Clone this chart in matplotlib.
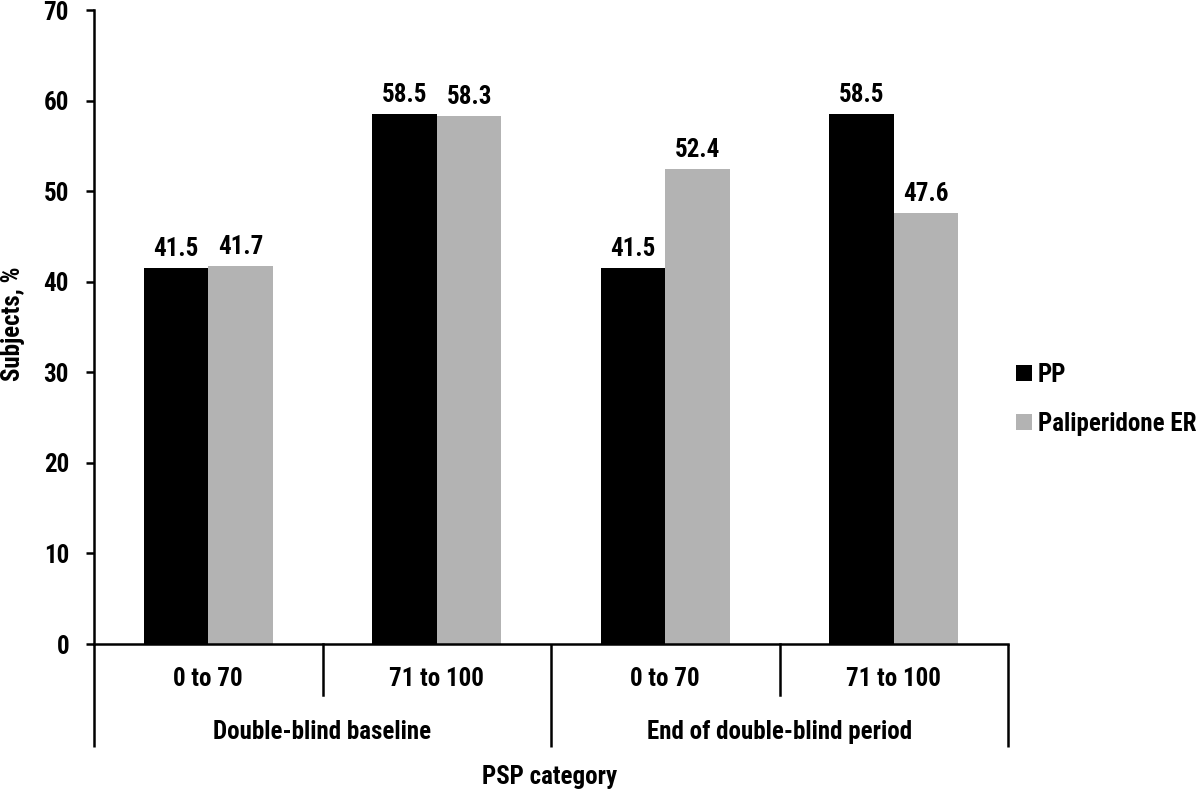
import matplotlib
matplotlib.use("Agg")
import matplotlib.pyplot as plt
import matplotlib.transforms as mtransforms
from matplotlib.patches import Patch
from matplotlib import font_manager

# ---- data ----
sub_categories = ["0 to 70", "71 to 100", "0 to 70", "71 to 100"]
periods = ["Double-blind baseline", "End of double-blind period"]
series_names = ["PP", "Paliperidone ER"]
pp_values = [41.5, 58.5, 41.5, 58.5]
pal_values = [41.7, 58.3, 52.4, 47.6]
y_ticks = [0, 10, 20, 30, 40, 50, 60, 70]
colors = ["#000000", "#b3b3b3"]

names = {f.name for f in font_manager.fontManager.ttflist}
prefs = ["Liberation Sans Narrow", "Arial Narrow", "Roboto Condensed", "PT Sans Narrow",
         "Archivo Narrow", "Pragati Narrow", "Asap Condensed", "Liberation Sans", "DejaVu Sans"]
fam = [f for f in prefs if f in names]
plt.rcParams["font.family"] = fam
plt.rcParams["font.weight"] = "bold"
FS = 18

fig = plt.figure(figsize=(12, 7.91), dpi=100)
ax = fig.add_axes([94 / 1200, 1 - 644 / 791, (1008 - 94) / 1200, (644 - 10) / 791])

n = len(sub_categories)
w = 0.283
xs = [i + 0.5 for i in range(n)]
for s, (vals, col) in enumerate(zip([pp_values, pal_values], colors)):
    pos = [x + (s - 0.5) * w for x in xs]
    bars = ax.bar(pos, vals, width=w, color=col, label=series_names[s], zorder=2)
    for b, v in zip(bars, vals):
        ax.annotate(f"{v:.1f}", (b.get_x() + b.get_width() / 2, v),
                    xytext=(0, 5), textcoords="offset points",
                    ha="center", va="bottom", fontsize=FS, fontweight="bold")

ax.set_xlim(0, n)
ax.set_ylim(0, 70)
ax.set_yticks(y_ticks)
ax.tick_params(axis="y", direction="out", length=6, width=1.8, pad=12, labelsize=FS)
for t in ax.get_yticklabels():
    t.set_fontweight("bold")
ax.set_xticks([])
for sp in ["top", "right"]:
    ax.spines[sp].set_visible(False)
for sp in ["left", "bottom"]:
    ax.spines[sp].set_linewidth(1.8)

trans = mtransforms.blended_transform_factory(ax.transData, ax.transAxes)
ah = 634.0
for x in [1, 3]:
    ax.plot([x, x], [0, -51 / ah], transform=trans, color="black", lw=1.8, clip_on=False)
for x in [0, 2, 4]:
    ax.plot([x, x], [0, -103 / ah], transform=trans, color="black", lw=1.8, clip_on=False,
            solid_capstyle="butt")
for x, lab in zip(xs, sub_categories):
    ax.text(x, -35 / ah, lab, transform=trans, ha="center", va="center",
            fontsize=FS, fontweight="bold")
for i, lab in enumerate(periods):
    ax.text(2 * i + 1, -88 / ah, lab, transform=trans, ha="center", va="center",
            fontsize=FS, fontweight="bold")

fig.text(550 / 1200, 1 - 777 / 791, "PSP category", ha="center", va="center",
         fontsize=FS, fontweight="bold")
fig.text(13 / 1200, 1 - 324 / 791, "Subjects, %", ha="center", va="center",
         rotation=90, fontsize=FS, fontweight="bold")

handles = [Patch(facecolor=c, edgecolor="none") for c in colors]
fig.legend(handles, series_names, loc="center left",
           bbox_to_anchor=(1016 / 1200, 1 - 399 / 791), frameon=False,
           borderpad=0, borderaxespad=0, handlelength=0.62, handleheight=0.62,
           handletextpad=0.25, labelspacing=1.0, prop={"size": FS, "weight": "bold"})

fig.savefig("out.png", dpi=100)
